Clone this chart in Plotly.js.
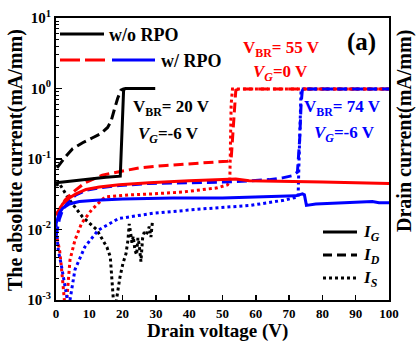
<!DOCTYPE html>
<html>
<head>
<meta charset="utf-8">
<script src="https://cdn.plot.ly/plotly-3.0.1.min.js"></script>
<style>html,body{margin:0;padding:0;background:#fff;}#chart{width:416px;height:342px;}</style>
</head>
<body>
<div id="chart"></div>
<script>
// ---- data (Drain voltage V, absolute current mA/mm) ----
// w/o RPO (black)
const woIG_x = [0, 5, 10, 15, 19.3, 20.3, 20.8, 29.8];
const woIG_y = [0.046, 0.049, 0.052, 0.055, 0.057, 0.95, 1.0, 1.0];
const woID_x = [0.3, 1.5, 3, 5, 8, 11, 13.5, 15.5, 16.5, 17.5, 18.5, 19.5, 20.5];
const woID_y = [0.075, 0.09, 0.11, 0.14, 0.17, 0.2, 0.23, 0.28, 0.34, 0.5, 0.72, 0.95, 1.0];
const woIS_x = [0, 1, 4.1, 8, 12.2, 15.3, 16.3, 16.8, 17.3, 18.0, 18.5, 19.2, 20.1, 21.0, 21.6, 22.0, 22.4, 22.8, 23.2, 23.7, 24.2, 24.6, 25.0, 25.5, 26.0, 26.5, 27.0, 27.5, 28.0, 28.5, 29.0];
const woIS_y = [0.042, 0.045, 0.026, 0.015, 0.010, 0.0056, 0.0041, 0.002, 0.0009, 0.0009, 0.0013, 0.0021, 0.0033, 0.0045, 0.007, 0.012, 0.009, 0.0065, 0.008, 0.0051, 0.0044, 0.0076, 0.006, 0.0035, 0.0075, 0.0092, 0.0085, 0.0092, 0.011, 0.0078, 0.0135];
// w/ RPO, VG = 0 V (red)
const w0IG_x = [0, 1, 2, 4, 6, 9, 13, 19, 28, 40, 50, 54, 58, 65, 72, 80, 90, 100];
const w0IG_y = [0.016, 0.019, 0.023, 0.028, 0.032, 0.037, 0.040, 0.043, 0.046, 0.049, 0.051, 0.052, 0.049, 0.048, 0.047, 0.047, 0.046, 0.045];
const w0ID_x = [0, 0.9, 2.7, 4.8, 8.7, 13.9, 20, 25, 33, 43, 51.5, 52.6, 53, 53.5, 54, 55, 100];
const w0ID_y = [0.016, 0.019, 0.026, 0.033, 0.046, 0.059, 0.068, 0.075, 0.081, 0.087, 0.093, 0.1, 0.2, 0.5, 0.95, 0.98, 0.98];
const w0IS_x = [0, 0.5, 1.1, 1.6, 2.1, 2.6, 3.0, 3.3, 4.2, 5.7, 7.7, 10.7, 14.7, 22, 29, 38, 48.5, 51.5, 52.2, 52.4, 52.6, 53, 100];
const w0IS_y = [0.009, 0.0065, 0.005, 0.003, 0.0017, 0.0009, 0.0009, 0.0011, 0.0037, 0.0071, 0.0123, 0.019, 0.029, 0.031, 0.032, 0.034, 0.039, 0.043, 0.05, 0.2, 0.6, 0.98, 0.98];
// w/ RPO, VG = -6 V (blue)
const w6IG_x = [0, 0.5, 1, 2, 4, 7, 12, 20, 35, 50, 65, 72, 73, 74, 74.6, 75.2, 78, 85, 95, 97, 100];
const w6IG_y = [0.012, 0.015, 0.017, 0.020, 0.023, 0.025, 0.026, 0.027, 0.028, 0.028, 0.029, 0.030, 0.031, 0.032, 0.031, 0.022, 0.023, 0.024, 0.025, 0.024, 0.024];
const w6ID_x = [0, 0.5, 1, 2, 4, 6, 9, 13, 19, 28, 40, 50, 58, 64, 68, 71, 72.5, 73.2, 73.6, 74, 100];
const w6ID_y = [0.008, 0.011, 0.014, 0.019, 0.026, 0.031, 0.036, 0.039, 0.042, 0.045, 0.046, 0.047, 0.049, 0.051, 0.054, 0.058, 0.065, 0.2, 0.6, 0.98, 0.98];
const w6IS_x = [0, 0.7, 1.5, 2.2, 3.0, 3.6, 4.2, 5.7, 8.7, 12.7, 18.8, 29.2, 43.4, 58.5, 68.4, 72.7, 73.0, 73.3, 73.6, 100];
const w6IS_y = [0.012, 0.005, 0.0033, 0.0022, 0.0014, 0.0009, 0.001, 0.0027, 0.0057, 0.0098, 0.0143, 0.017, 0.0195, 0.022, 0.026, 0.029, 0.1, 0.5, 0.98, 0.98];

const yTickVals = [0.001, 0.01, 0.1, 1, 10];
const yTickText = ['10<sup>-3</sup>', '10<sup>-2</sup>', '10<sup>-1</sup>', '10<sup>0</sup>', '10<sup>1</sup>'];

const BLACK = '#000000', RED = '#ff0000', BLUE = '#0000ff';
const SOLID = 'solid', DASH = '10px,5px', DOT = '3px,3px';
const FONT = 'Liberation Serif, Times New Roman, serif';

function tr(x, y, color, dash) {
  return {x: x, y: y, type: 'scatter', mode: 'lines', line: {color: color, width: 3, dash: dash}, hoverinfo: 'skip'};
}

const data = [
  tr(woIS_x, woIS_y, BLACK, DOT),
  tr(w0IS_x, w0IS_y, RED, DOT),
  tr(w6IS_x, w6IS_y, BLUE, DOT),
  tr(woID_x, woID_y, BLACK, DASH),
  tr(w0ID_x, w0ID_y, RED, DASH),
  tr(w6ID_x, w6ID_y, BLUE, DASH),
  tr(woIG_x, woIG_y, BLACK, SOLID),
  tr(w0IG_x, w0IG_y, RED, SOLID),
  tr(w6IG_x, w6IG_y, BLUE, SOLID)
];

// minor log tick positions
const minorVals = [];
for (let e = -3; e < 1; e++) for (let m = 2; m <= 9; m++) minorVals.push(m * Math.pow(10, e));

// pixel helpers for paper coords (plot area: x 56..389, y 18..300)
const px = v => (v - 56) / 333;
const py = v => 1 - (v - 18) / 282;

function ann(text, x, y, size, color, opts) {
  return Object.assign({text: text, xref: 'paper', yref: 'paper', x: px(x), y: py(y), xanchor: 'left', yanchor: 'middle',
    showarrow: false, font: {family: FONT, size: size, color: color, weight: 'bold'}}, opts || {});
}
function seg(x0, x1, y, color, dash, w) {
  return {type: 'line', xref: 'paper', yref: 'paper', x0: px(x0), x1: px(x1), y0: py(y), y1: py(y), line: {color: color, width: w || 3, dash: dash}};
}

const layout = {
  width: 416, height: 342,
  margin: {l: 56, r: 27, t: 18, b: 42},
  paper_bgcolor: '#ffffff', plot_bgcolor: '#ffffff',
  showlegend: false,
  font: {family: FONT, color: '#000'},
  xaxis: {
    range: [0, 100], dtick: 10, tick0: 0, ticks: 'inside', ticklen: 5, tickwidth: 1.5, tickcolor: '#000',
    showline: true, linewidth: 2, linecolor: '#000', mirror: true, showgrid: false, zeroline: false,
    tickfont: {family: FONT, size: 13, color: '#000', weight: 'bold'}
  },
  yaxis: {
    type: 'log', range: [-3, 1], tickmode: 'array', tickvals: yTickVals, ticktext: yTickText,
    ticks: 'inside', ticklen: 6, tickwidth: 1.5, tickcolor: '#000',
    minor: {tickmode: 'array', tickvals: minorVals, ticks: 'inside', ticklen: 3, tickwidth: 1, tickcolor: '#000', showgrid: false},
    showline: true, linewidth: 2, linecolor: '#000', mirror: true, showgrid: false, zeroline: false,
    tickfont: {family: FONT, size: 15, color: '#000', weight: 'bold'}
  },
  shapes: [
    seg(60, 104, 34, BLACK, 'solid'),
    seg(60, 105, 60, RED, '20px,5px'),
    seg(112, 155, 60, BLUE, 'solid'),
    seg(323, 357, 232, BLACK, 'solid'),
    seg(323, 357, 255, BLACK, '9px,5px'),
    seg(323, 357, 278, BLACK, '3px,3px')
  ],
  annotations: [
    ann('w/o RPO', 107, 35, 18, BLACK),
    ann('w/ RPO', 159, 61, 18, BLACK),
    ann('(a)', 345, 42, 25, BLACK),
    ann('V<sub>BR</sub>= 20 V', 131, 108, 17, BLACK),
    ann('<i>V</i><sub><i>G</i></sub>=-6 V', 136, 135, 17, BLACK),
    ann('V<sub>BR</sub>= 55 V', 241, 49, 17, RED),
    ann('<i>V</i><sub><i>G</i></sub>=0 V', 251, 73, 17, RED),
    ann('V<sub>BR</sub>= 74 V', 302, 108, 17, BLUE),
    ann('<i>V</i><sub><i>G</i></sub>=-6 V', 312, 134, 17, BLUE),
    ann('<i>I</i><sub><i>G</i></sub>', 361, 233, 17, BLACK),
    ann('<i>I</i><sub><i>D</i></sub>', 361, 256, 17, BLACK),
    ann('<i>I</i><sub><i>S</i></sub>', 361, 279, 17, BLACK),
    ann('Drain voltage (V)', 217, 331, 19, BLACK, {xanchor: 'center'}),
    ann('The absolute current(mA/mm)', 15, 160, 20, BLACK, {xanchor: 'center', textangle: -90}),
    ann('Drain current(mA/mm)', 404, 131, 20, BLACK, {xanchor: 'center', textangle: -90})
  ]
};

Plotly.newPlot('chart', data, layout, {displayModeBar: false, staticPlot: true});
</script>
</body>
</html>
